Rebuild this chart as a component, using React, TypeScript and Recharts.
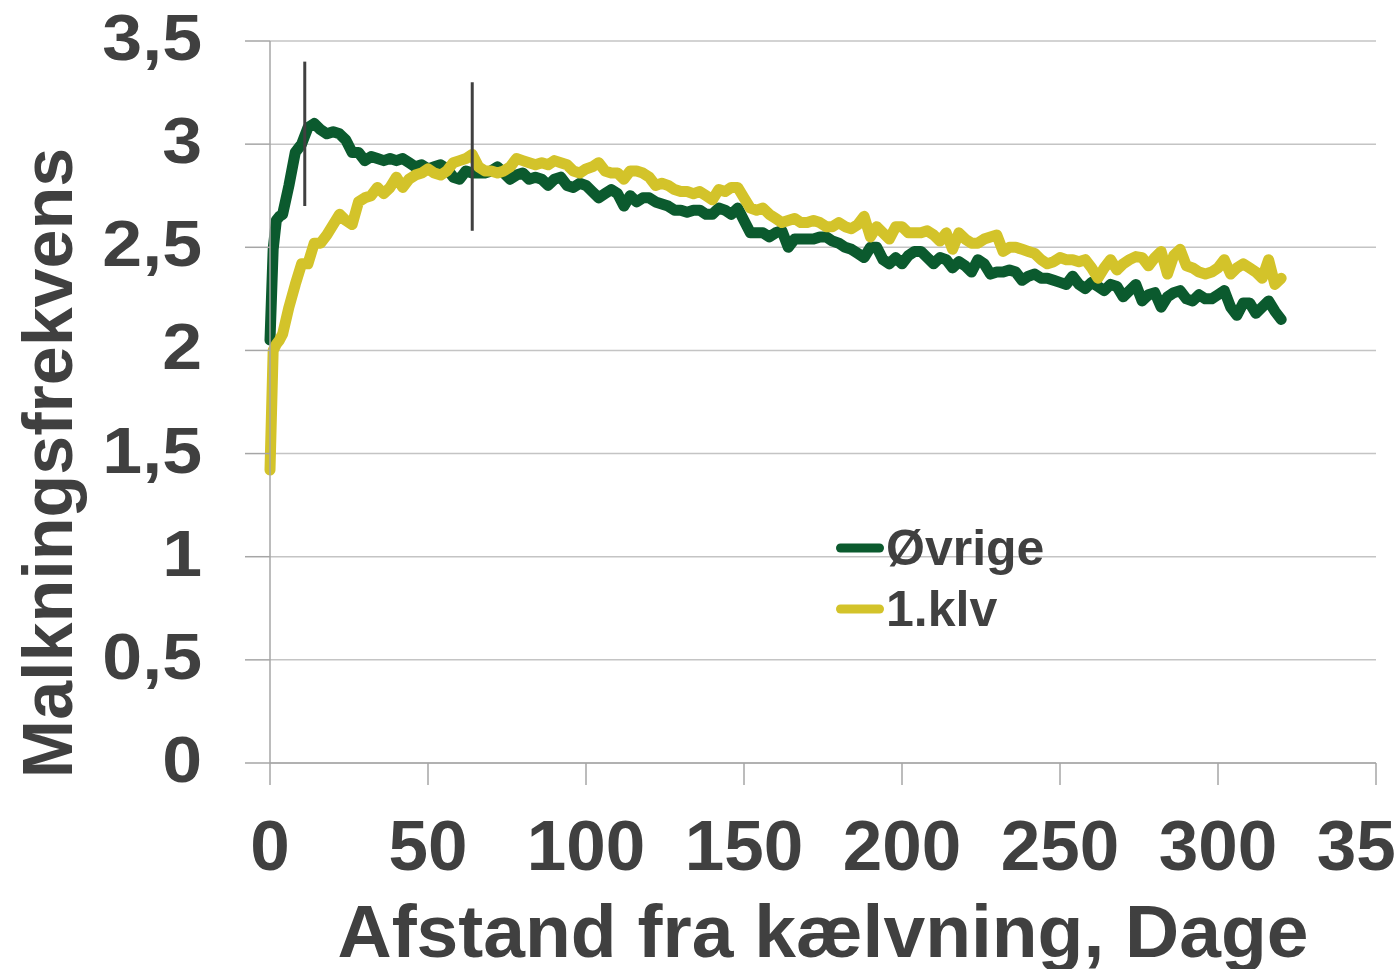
import React from "react";
import {
  LineChart,
  Line,
  XAxis,
  YAxis,
  CartesianGrid,
  Legend,
  ReferenceLine,
} from "recharts";

// days after calving (x values)
const days = [
  0, 1, 2, 3, 4, 6, 8, 10, 12, 14,
  16, 18, 20, 22, 24, 26, 28, 30, 32, 34,
  36, 38, 40, 42, 44, 46, 48, 50, 52, 54,
  56, 58, 60, 62, 64, 66, 68, 70, 72, 74,
  76, 78, 80, 82, 84, 86, 88, 90, 92, 94,
  96, 98, 100, 102, 104, 106, 108, 110, 112, 114,
  116, 118, 120, 122, 124, 126, 128, 130, 132, 134,
  136, 138, 140, 142, 144, 146, 148, 150, 152, 154,
  156, 158, 160, 162, 164, 166, 168, 170, 172, 174,
  176, 178, 180, 182, 184, 186, 188, 190, 192, 194,
  196, 198, 200, 202, 204, 206, 208, 210, 212, 214,
  216, 218, 220, 222, 224, 226, 228, 230, 232, 234,
  236, 238, 240, 242, 244, 246, 248, 250, 252, 254,
  256, 258, 260, 262, 264, 266, 268, 270, 272, 274,
  276, 278, 280, 282, 284, 286, 288, 290, 292, 294,
  296, 298, 300, 302, 304, 306, 308, 310, 312, 314,
  316, 318, 320,
];

// Øvrige
const ovrige = [
  2.05, 2.49, 2.63, 2.65, 2.66, 2.8, 2.96, 3.0, 3.08, 3.1,
  3.07, 3.05, 3.06, 3.05, 3.02, 2.96, 2.96, 2.92, 2.94, 2.93,
  2.92, 2.93, 2.92, 2.93, 2.91, 2.89, 2.9, 2.88, 2.89, 2.9,
  2.88, 2.84, 2.83, 2.87, 2.86, 2.86, 2.86, 2.87, 2.89, 2.86,
  2.83, 2.85, 2.86, 2.83, 2.84, 2.83, 2.8, 2.83, 2.84, 2.8,
  2.79, 2.81, 2.8, 2.77, 2.74, 2.76, 2.78, 2.76, 2.7, 2.75,
  2.72, 2.74, 2.74, 2.72, 2.71, 2.7, 2.68, 2.68, 2.67, 2.68,
  2.68, 2.66, 2.66, 2.69, 2.68, 2.66, 2.69, 2.63, 2.57, 2.57,
  2.57, 2.55, 2.57, 2.58, 2.5, 2.54, 2.54, 2.54, 2.54, 2.55,
  2.55, 2.53, 2.52, 2.5, 2.49, 2.47, 2.45, 2.5, 2.5, 2.44,
  2.42, 2.45, 2.42, 2.46, 2.48, 2.48, 2.45, 2.42, 2.45, 2.44,
  2.4, 2.43, 2.41, 2.38, 2.44, 2.42, 2.37, 2.38, 2.38, 2.39,
  2.38, 2.34, 2.36, 2.37, 2.35, 2.35, 2.34, 2.33, 2.32, 2.36,
  2.32, 2.3, 2.33, 2.31, 2.29, 2.32, 2.31, 2.26, 2.29, 2.32,
  2.24, 2.27, 2.28, 2.21, 2.26, 2.28, 2.29, 2.25, 2.24, 2.27,
  2.25, 2.25, 2.27, 2.29, 2.21, 2.17, 2.23, 2.23, 2.18, 2.21,
  2.24, 2.19, 2.15,
];

// 1.klv
const klv1 = [
  1.42, 2.0, 2.03, 2.05, 2.08, 2.21, 2.32, 2.42, 2.42, 2.52,
  2.52, 2.56, 2.61, 2.66, 2.63, 2.61, 2.72, 2.74, 2.75, 2.79,
  2.76, 2.79, 2.84, 2.79, 2.83, 2.85, 2.86, 2.88, 2.86, 2.85,
  2.87, 2.91, 2.92, 2.93, 2.95, 2.89, 2.87, 2.87, 2.86, 2.87,
  2.89, 2.93, 2.92, 2.91, 2.9, 2.91, 2.9, 2.92, 2.91, 2.9,
  2.87, 2.86, 2.88, 2.89, 2.91, 2.87, 2.86, 2.86, 2.83, 2.87,
  2.87, 2.86, 2.84, 2.8, 2.81, 2.8, 2.78, 2.77, 2.77, 2.76,
  2.77, 2.75, 2.73, 2.78, 2.77, 2.79, 2.79, 2.74, 2.69, 2.68,
  2.69, 2.66, 2.64, 2.62, 2.63, 2.64, 2.62, 2.62, 2.63, 2.62,
  2.6, 2.6, 2.62, 2.6, 2.59, 2.61, 2.65, 2.55, 2.6, 2.57,
  2.54, 2.6, 2.6, 2.57, 2.57, 2.57, 2.58, 2.56, 2.53, 2.57,
  2.49, 2.57, 2.54, 2.52, 2.52, 2.54, 2.55, 2.56, 2.48, 2.5,
  2.5, 2.49, 2.48, 2.47, 2.44, 2.42, 2.43, 2.45, 2.44, 2.44,
  2.43, 2.44, 2.4, 2.35, 2.4, 2.44, 2.39, 2.42, 2.44, 2.455,
  2.45, 2.41, 2.45, 2.48, 2.37, 2.46, 2.49, 2.41, 2.4, 2.38,
  2.37, 2.38, 2.4, 2.44, 2.37, 2.4, 2.42, 2.4, 2.38, 2.35,
  2.44, 2.32, 2.35,
];

// vertical spread bars
const barDays = [11, 64];
const barLow = [2.7, 2.58];
const barHigh = [3.4, 3.3];

const xTicks = [0, 50, 100, 150, 200, 250, 300, 350];
const yTicks = [0, 0.5, 1, 1.5, 2, 2.5, 3, 3.5];

const seriesKeys = ["ovrige", "klv1"];
const seriesNames = ["Øvrige", "1.klv"];
const seriesColors = ["#0B5A2E", "#D3C32A"];

const data = days.map((d, i) => ({ day: d, ovrige: ovrige[i], klv1: klv1[i] }));

const FONT = "'Liberation Sans', Arial, sans-serif";
const TEXT = "#404040";

const YTick = (props: any) => {
  const { x, y, payload } = props;
  const label = String(payload.value).replace(".", ",");
  return (
    <text
      transform={`translate(${x},${y + 19}) scale(1.12,1)`}
      textAnchor="end"
      fontFamily={FONT}
      fontWeight="bold"
      fontSize={64}
      fill={TEXT}
    >
      {label}
    </text>
  );
};

const YTitle = () => (
  <text
    transform="translate(72,463) rotate(-90)"
    textAnchor="middle"
    fontFamily={FONT}
    fontWeight="bold"
    fontSize={70}
    fill={TEXT}
  >
    Malkningsfrekvens
  </text>
);

const renderLegend = () => (
  <div style={{ display: "flex", flexDirection: "column" }}>
    {seriesNames.map((name, i) => (
      <div key={name} style={{ display: "flex", alignItems: "center", height: 61 }}>
        <svg width={52} height={12}>
          <line x1={6.5} y1={6} x2={45.5} y2={6} stroke={seriesColors[i]} strokeWidth={9} strokeLinecap="round" />
        </svg>
        <span style={{ fontFamily: FONT, fontWeight: "bold", fontSize: 50, color: TEXT, lineHeight: 1 }}>
          {name}
        </span>
      </div>
    ))}
  </div>
);

export default function App() {
  return (
    <div style={{ position: "absolute", left: 0, top: 0, width: 1397, height: 969, overflow: "hidden", background: "#fff" }}>
      <LineChart width={1460} height={969} data={data} margin={{ top: 41, right: 84, left: 0, bottom: 0 }}>
        <CartesianGrid vertical={false} stroke="#C4C4C4" strokeWidth={1.5} />
        <XAxis
          dataKey="day"
          type="number"
          domain={[0, 350]}
          ticks={xTicks}
          interval={0}
          height={206}
          stroke="#A6A6A6"
          strokeWidth={1.5}
          tickSize={22}
          tickMargin={35}
          tick={{ fontSize: 71, fontWeight: "bold", fill: TEXT, fontFamily: FONT }}
          label={{
            value: "Afstand fra kælvning, Dage",
            position: "insideBottom",
            offset: 12,
            fontSize: 75,
            fontWeight: "bold",
            fill: TEXT,
            fontFamily: FONT,
          }}
        />
        <YAxis
          type="number"
          domain={[0, 3.5]}
          ticks={yTicks}
          interval={0}
          width={270}
          stroke="#A6A6A6"
          strokeWidth={1.5}
          tickSize={25}
          tickMargin={43}
          tick={<YTick />}
          label={<YTitle />}
        />
        {seriesKeys.map((k, i) => (
          <Line
            key={k}
            dataKey={k}
            name={seriesNames[i]}
            stroke={seriesColors[i]}
            strokeWidth={11}
            strokeLinejoin="round"
            strokeLinecap="round"
            dot={false}
            type="linear"
            isAnimationActive={false}
          />
        ))}
        {barDays.map((d, i) => (
          <ReferenceLine
            key={d}
            segment={[
              { x: d, y: barLow[i] },
              { x: d, y: barHigh[i] },
            ]}
            stroke="#404040"
            strokeWidth={3}
          />
        ))}
        <Legend
          layout="vertical"
          align="center"
          verticalAlign="middle"
          content={renderLegend}
          wrapperStyle={{ position: "absolute", left: 834, top: 517, width: "auto" }}
        />
      </LineChart>
    </div>
  );
}
